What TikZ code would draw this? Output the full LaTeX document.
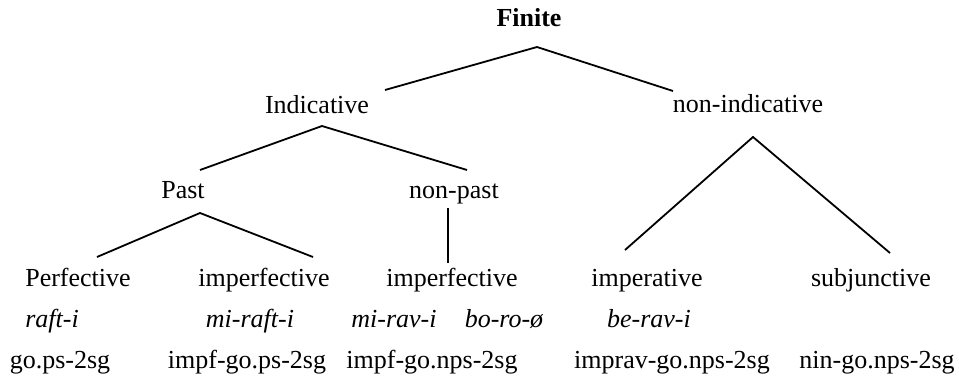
\documentclass[tikz,border=0pt]{standalone}
\usepackage{fontspec}
\setmainfont{Liberation Serif}
\begin{document}
\begin{tikzpicture}[x=1pt,y=-1pt,
  lbl/.style={anchor=base,inner sep=0pt,font=\fontsize{26}{31}\selectfont},
  ex/.style={lbl,font=\fontsize{26}{31}\selectfont\itshape},
  branch/.style={line width=1.8pt}]
\useasboundingbox (0,0) rectangle (959,380);
% labels
\node[lbl,font=\fontsize{26}{31}\selectfont\bfseries] (fin) at (529,27) {Finite};
\node[lbl] (ind) at (317,113) {Indicative};
\node[lbl] (nind) at (748,112) {non-indicative};
\node[lbl] (past) at (183,198) {Past};
\node[lbl] (npast) at (454,198) {non-past};
\node[lbl] (perf) at (78,286) {Perfective};
\node[lbl] (impf1) at (264,286) {imperfective};
\node[lbl] (impf2) at (452,286) {imperfective};
\node[lbl] (imp) at (647,286) {imperative};
\node[lbl] (subj) at (871,286) {subjunctive};
\node[ex] (ex1) at (52,327) {raft-i};
\node[ex] (ex2) at (250,327) {mi-raft-i};
\node[ex] (ex3) at (394,327) {mi-rav-i};
\node[ex] (ex4) at (504,327) {bo-ro-ø};
\node[ex] (ex5) at (649,327) {be-rav-i};
\node[lbl] (gl1) at (60,368) {go.ps-2sg};
\node[lbl] (gl2) at (247,368) {impf-go.ps-2sg};
\node[lbl] (gl3) at (432,368) {impf-go.nps-2sg};
\node[lbl] (gl4) at (672,368) {imprav-go.nps-2sg};
\node[lbl] (gl5) at (877,368) {nin-go.nps-2sg};
% branch points
\coordinate (finT) at (537,47);
\coordinate (indU) at (385,90);
\coordinate (nindU) at (673,91);
\coordinate (indT) at (322,126);
\coordinate (pastU) at (200,170);
\coordinate (npastU) at (467,170);
\coordinate (nindT) at (753,137);
\coordinate (impU) at (625,250);
\coordinate (subjU) at (890,253);
\coordinate (pastT) at (200,213);
\coordinate (perfU) at (97,257);
\coordinate (impf1U) at (313,257);
\coordinate (npastT) at (448,208);
\coordinate (impf2U) at (448,263);
% branches
\draw[branch] (indU) -- (finT) -- (nindU);
\draw[branch] (pastU) -- (indT) -- (npastU);
\draw[branch] (impU) -- (nindT) -- (subjU);
\draw[branch] (perfU) -- (pastT) -- (impf1U);
\draw[branch] (npastT) -- (impf2U);
\end{tikzpicture}
\end{document}
